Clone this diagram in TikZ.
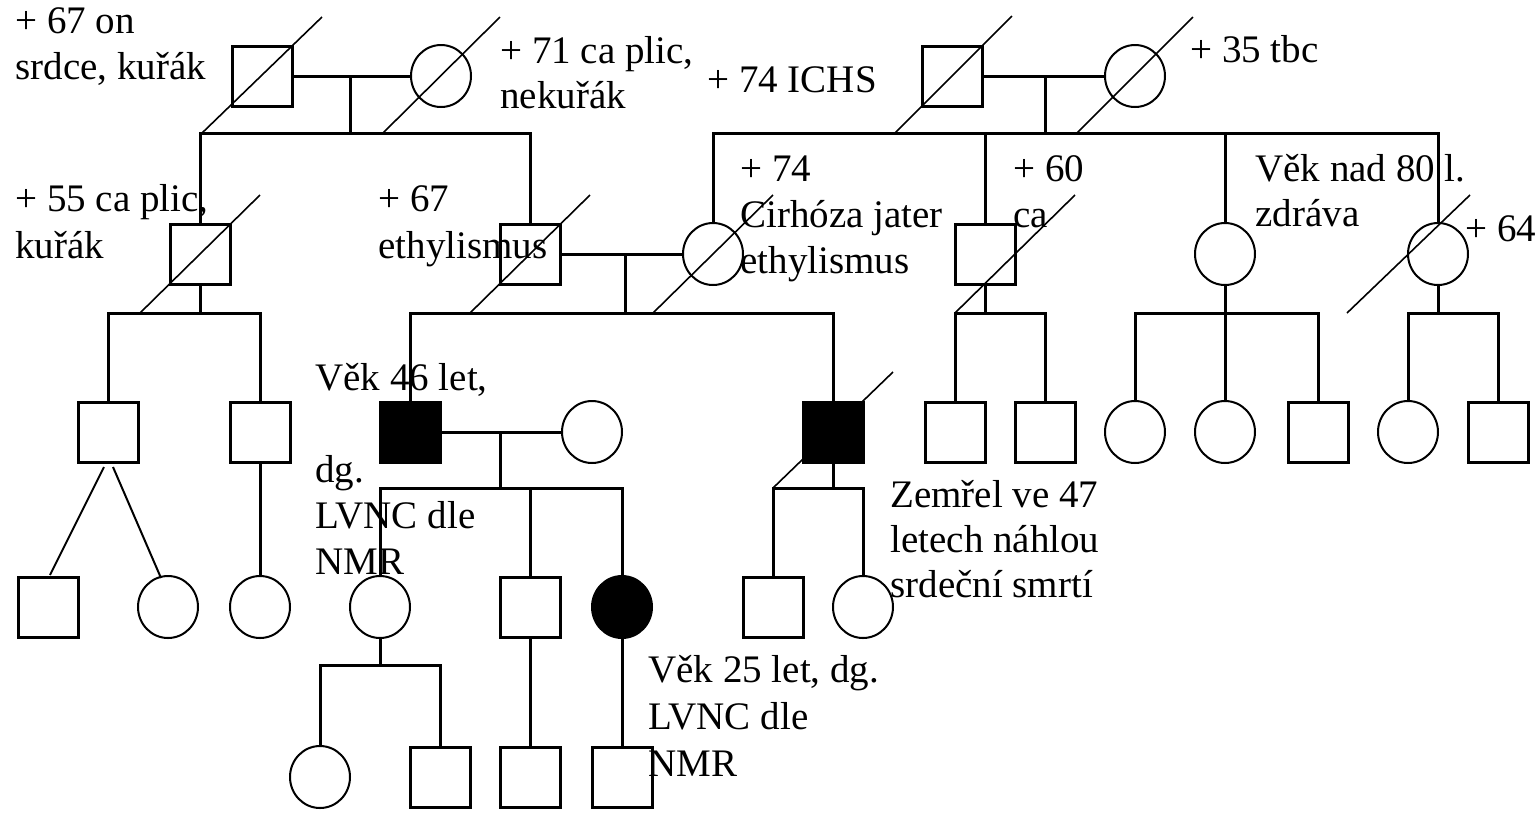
\documentclass[tikz,border=0pt]{standalone}
\usepackage{fontspec}
\setmainfont{Liberation Serif}
\usetikzlibrary{calc,shapes.geometric}
\begin{document}
\begin{tikzpicture}[x=0.5pt,y=-0.5pt,
 sq/.style={draw,line width=1.5pt,minimum size=30pt,inner sep=0pt,outer sep=0pt},
 fsq/.style={sq,fill=black},
 ci/.style={draw,ellipse,line width=1pt,minimum width=30pt,minimum height=31pt,inner sep=0pt,outer sep=0pt},
 fci/.style={ci,fill=black},
 ln/.style={line width=1.5pt},
 tw/.style={line width=1pt},
 sl/.style={line width=0.8pt},
 lbl/.style={anchor=base west,inner sep=0pt,font=\fontsize{19.5pt}{23pt}\selectfont}]
\useasboundingbox (0,0) rectangle (1539,816);
% generation I
\node[sq] (S1) at (262,76) {};
\node[ci] (C1) at (441,76) {};
\node[sq] (S2) at (952,76) {};
\node[ci] (C2) at (1135,76) {};
% generation II
\node[sq] (S3) at (200,254) {};
\node[sq] (S4) at (530,254) {};
\node[ci] (C3) at (713,254) {};
\node[sq] (S5) at (985,254) {};
\node[ci] (C4) at (1225,254) {};
\node[ci] (C5) at (1438,254) {};
% generation III
\node[sq] (S6) at (108,432) {};
\node[sq] (S7) at (260,432) {};
\node[fsq] (S9) at (410,432) {};
\node[ci] (C8) at (592,432) {};
\node[fsq] (S10) at (833,432) {};
\node[sq] (S13) at (955,432) {};
\node[sq] (S14) at (1045,432) {};
\node[ci] (C12) at (1135,432) {};
\node[ci] (C13) at (1225,432) {};
\node[sq] (S15) at (1318,432) {};
\node[ci] (C14) at (1408,432) {};
\node[sq] (S16) at (1498,432) {};
% generation IV
\node[sq] (S8) at (48,607) {};
\node[ci] (C7) at (168,607) {};
\node[ci] (C6) at (260,607) {};
\node[ci] (C9) at (380,607) {};
\node[sq] (S11) at (530,607) {};
\node[fci] (C10) at (622,607) {};
\node[sq] (S12) at (773,607) {};
\node[ci] (C11) at (863,607) {};
% generation V
\node[ci] (C15) at (320,777) {};
\node[sq] (S17) at (440,777) {};
\node[sq] (S18) at (530,777) {};
\node[sq] (S19) at (622,777) {};
% coordinates of lines
\coordinate (m1) at (350,76);  \coordinate (d1) at (350,133);
\coordinate (m2) at (1045,76); \coordinate (d2) at (1045,133);
\coordinate (d3) at (200,313);
\coordinate (m4) at (625,254); \coordinate (d4) at (625,313);
\coordinate (d5) at (985,313);
\coordinate (d6) at (1225,313);
\coordinate (d7) at (1438,313);
\coordinate (m10) at (500,432); \coordinate (d10) at (500,488);
\coordinate (d11) at (833,488);
\coordinate (d12) at (380,665);
% family lines
\draw[ln] (S1.east) -- (C1.west);
\draw[ln] (m1) -- (d1);
\draw[ln] (S3.north) |- (d1) -| (S4.north);
\draw[ln] (S2.east) -- (C2.west);
\draw[ln] (m2) -- (d2);
\draw[ln] (C3.north) |- (d2) -| (C5.north);
\draw[ln] (S5.north) -- (S5.north |- d2);
\draw[ln] (C4.north) -- (C4.north |- d2);
\draw[ln] (S3.south) -- (d3);
\draw[ln] (S6.north) |- (d3) -| (S7.north);
\draw[ln] (S4.east) -- (C3.west);
\draw[ln] (m4) -- (d4);
\draw[ln] (S9.north) |- (d4) -| (S10.north);
\draw[ln] (S5.south) -- (d5);
\draw[ln] (S13.north) |- (d5) -| (S14.north);
\draw[ln] (C4.south) -- (d6);
\draw[ln] (C12.north) |- (d6) -| (S15.north);
\draw[ln] (d6) -- (C13.north);
\draw[ln] (C5.south) -- (d7);
\draw[ln] (C14.north) |- (d7) -| (S16.north);
\draw[tw] ($(S6.south)+(-4,5)$) -- ($(S8.north)+(2,-2)$);
\draw[tw] ($(S6.south)+(5,5)$) -- ($(C7.north)+(-7,2)$);
\draw[ln] (S7.south) -- (C6.north);
\draw[ln] (S9.east) -- (C8.west);
\draw[ln] (m10) -- (d10);
\draw[ln] (C9.north) |- (d10) -| (C10.north);
\draw[ln] (S11.north) -- (S11.north |- d10);
\draw[ln] (S10.south) -- (d11);
\draw[ln] (S12.north) |- (d11) -| (C11.north);
\draw[ln] (C9.south) -- (d12);
\draw[ln] (C15.north) |- (d12) -| (S17.north);
\draw[ln] (S11.south) -- (S18.north);
\draw[ln] (C10.south) -- (S19.north);
% deceased slashes
\draw[sl] ($(S1)+(-61,58)$) -- ($(S1)+(60,-59)$);
\draw[sl] ($(C1)+(-58,57)$) -- ($(C1)+(59,-59)$);
\draw[sl] ($(S2)+(-57,57)$) -- ($(S2)+(60,-60)$);
\draw[sl] ($(C2)+(-58,57)$) -- ($(C2)+(58,-59)$);
\draw[sl] ($(S3)+(-60,59)$) -- ($(S3)+(60,-59)$);
\draw[sl] ($(S4)+(-60,59)$) -- ($(S4)+(60,-59)$);
\draw[sl] ($(C3)+(-60,59)$) -- ($(C3)+(60,-59)$);
\draw[sl] ($(S5)+(-30,59)$) -- ($(S5)+(90,-59)$);
\draw[sl] ($(C5)+(-91,59)$) -- ($(C5)+(32,-59)$);
\draw[sl] ($(S10)+(-60,56)$) -- ($(S10)+(60,-60)$);
% labels
\node[lbl] (t1a) at (15,33) {+ 67 on};
\node[lbl] (t1b) at (15,79) {srdce, kuřák};
\node[lbl] (t2a) at (500,63) {+ 71 ca plic,};
\node[lbl] (t2b) at (500,108) {nekuřák};
\node[lbl] (t3) at (707,92) {+ 74 ICHS};
\node[lbl] (t4) at (1190,62) {+ 35 tbc};
\node[lbl] (t5a) at (15,211) {+ 55 ca plic,};
\node[lbl] (t5b) at (15,258) {kuřák};
\node[lbl] (t6a) at (378,211) {+ 67};
\node[lbl] (t6b) at (378,258) {ethylismus};
\node[lbl] (t7a) at (740,181) {+ 74};
\node[lbl] (t7b) at (740,227) {Cirhóza jater};
\node[lbl] (t7c) at (740,273) {ethylismus};
\node[lbl] (t8a) at (1013,181) {+ 60};
\node[lbl] (t8b) at (1013,227) {ca};
\node[lbl] (t9a) at (1255,181) {Věk nad 80 l.};
\node[lbl] (t9b) at (1255,226) {zdráva};
\node[lbl] (t10) at (1465,241) {+ 64};
\node[lbl] (t11a) at (315,390) {Věk 46 let,};
\node[lbl] (t11b) at (315,482) {dg.};
\node[lbl] (t11c) at (315,528) {LVNC dle};
\node[lbl] (t11d) at (315,574) {NMR};
\node[lbl] (t12a) at (890,507) {Zemřel ve 47};
\node[lbl] (t12b) at (890,552) {letech náhlou};
\node[lbl] (t12c) at (890,597) {srdeční smrtí};
\node[lbl] (t13a) at (648,682) {Věk 25 let, dg.};
\node[lbl] (t13b) at (648,729) {LVNC dle};
\node[lbl] (t13c) at (648,776) {NMR};
\end{tikzpicture}
\end{document}
